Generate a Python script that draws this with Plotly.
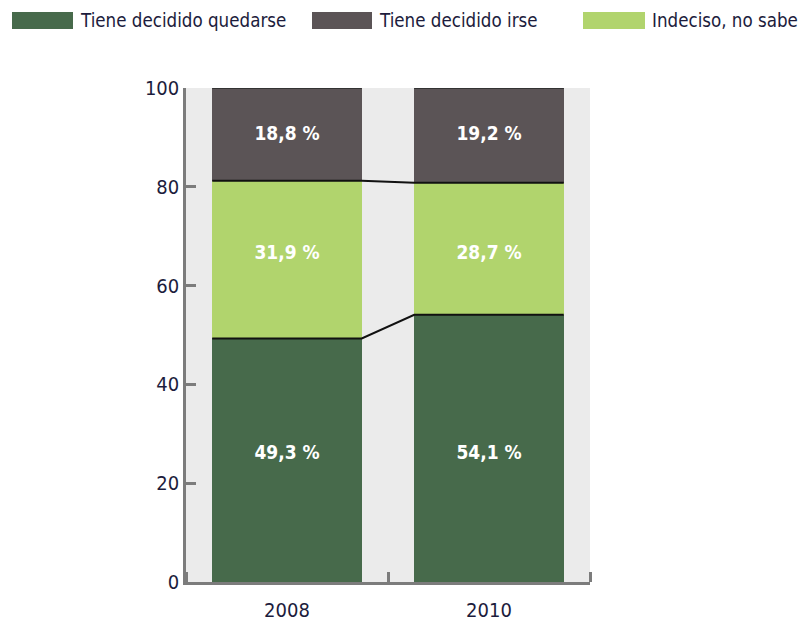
import plotly.graph_objects as go

# ---- data ----
years = ["2008", "2010"]
quedarse = [49.3, 54.1]
indeciso = [31.9, 28.7]
irse = [18.8, 19.2]
legend_names = ["Tiene decidido quedarse", "Tiene decidido irse", "Indeciso, no sabe"]
y_ticks = [0, 20, 40, 60, 80, 100]

# ---- style ----
FONT = "DejaVu Sans Condensed, Liberation Sans Narrow, DejaVu Sans, sans-serif"
C_GREEN = "#476a4b"
C_GRAY = "#5b5456"
C_LIGHT = "#b1d46d"
C_TEXT = "#1c1c3c"
C_AXIS = "#7c7c7c"
BG = "#ebebeb"

W, H = 803, 621
L, R, T, B = 186, 213, 88, 39
PW, PH = W - L - R, H - T - B
bar_w = 0.74
xpos = list(range(len(years)))


def fmt(v):
    return f"{v:.1f}".replace(".", ",") + " %"


def px_x(px):
    return (px - L) / PW


def px_y(py):
    return (H - B - py) / PH


# segment extents: bottom segment from 0, top segment hangs from 100, middle fills between
top_base = [100 - v for v in irse]

fig = go.Figure()
fig.add_bar(x=xpos, y=quedarse, base=[0] * len(xpos), width=bar_w,
            marker=dict(color=C_GREEN, line=dict(width=0)),
            showlegend=False, hoverinfo="skip")
fig.add_bar(x=xpos, y=indeciso, base=quedarse, width=bar_w,
            marker=dict(color=C_LIGHT, line=dict(width=0)),
            showlegend=False, hoverinfo="skip")
fig.add_bar(x=xpos, y=irse, base=top_base, width=bar_w,
            marker=dict(color=C_GRAY, line=dict(width=0)),
            showlegend=False, hoverinfo="skip")

# connector lines between stacked segments
for lvl in (quedarse, top_base):
    xs, ys = [], []
    for i, v in zip(xpos, lvl):
        xs += [i - bar_w / 2, i + bar_w / 2]
        ys += [v, v]
    fig.add_scatter(x=xs, y=ys, mode="lines", line=dict(color="#111111", width=2),
                    showlegend=False, hoverinfo="skip")
xs, ys = [], []
for i, b, v in zip(xpos, top_base, irse):
    xs += [i - bar_w / 2, i + bar_w / 2, None]
    ys += [b + v, b + v, None]
fig.add_scatter(x=xs, y=ys, mode="lines", line=dict(color="#333333", width=2),
                showlegend=False, hoverinfo="skip")

# value labels: aligned across bars at the mean segment centre
centres = {
    "q": [v / 2 for v in quedarse],
    "i": [(q + t) / 2 for q, t in zip(quedarse, top_base)],
    "r": [t + v / 2 for t, v in zip(top_base, irse)],
}
for key, vals in (("q", quedarse), ("i", indeciso), ("r", irse)):
    yc = sum(centres[key]) / len(centres[key])
    fig.add_scatter(x=xpos, y=[yc] * len(xpos), mode="text",
                    text=[fmt(v) for v in vals], textposition="middle center",
                    textfont=dict(color="white", size=19, family=FONT, weight="bold"),
                    showlegend=False, hoverinfo="skip")

# custom legend (wide swatches)
legend_items = [
    (legend_names[0], C_GREEN, 12, 73),
    (legend_names[1], C_GRAY, 312, 372),
    (legend_names[2], C_LIGHT, 583, 645),
]
for name, col, x0, x1 in legend_items:
    fig.add_shape(type="rect", xref="paper", yref="paper",
                  x0=px_x(x0), x1=px_x(x1), y0=px_y(29), y1=px_y(12),
                  fillcolor=col, line=dict(width=0))
    fig.add_annotation(text=name, xref="paper", yref="paper",
                       x=px_x(x1 + 5), y=px_y(20), xanchor="left", yanchor="middle",
                       showarrow=False, font=dict(size=18.6, color=C_TEXT, family=FONT))

fig.update_layout(
    width=W, height=H,
    margin=dict(l=L, r=R, t=T, b=B, autoexpand=False),
    barmode="overlay", bargap=0,
    plot_bgcolor=BG, paper_bgcolor="white",
    font=dict(family=FONT, color=C_TEXT, size=20),
    xaxis=dict(
        range=[-0.5, len(years) - 0.5], tickvals=xpos, ticktext=years,
        ticks="", showgrid=False, zeroline=False, automargin=False,
        showline=True, linecolor=C_AXIS, linewidth=2.5,
        ticklabelstandoff=8,
        tickfont=dict(size=20, color=C_TEXT, family=FONT),
        minor=dict(tick0=0.5, dtick=1, ticks="inside", ticklen=10,
                   tickcolor=C_AXIS, tickwidth=2.5, showgrid=False),
    ),
    yaxis=dict(
        range=[0, 100], tickvals=y_ticks, ticks="inside", ticklen=10,
        tickcolor=C_AXIS, tickwidth=2.5, showgrid=False, zeroline=False,
        automargin=False,
        showline=True, linecolor=C_AXIS, linewidth=2.5,
        tickfont=dict(size=20, color=C_TEXT, family=FONT),
    ),
)

fig.write_html("out.html", config={"displayModeBar": False},
               post_script="document.body.style.margin='0';")
